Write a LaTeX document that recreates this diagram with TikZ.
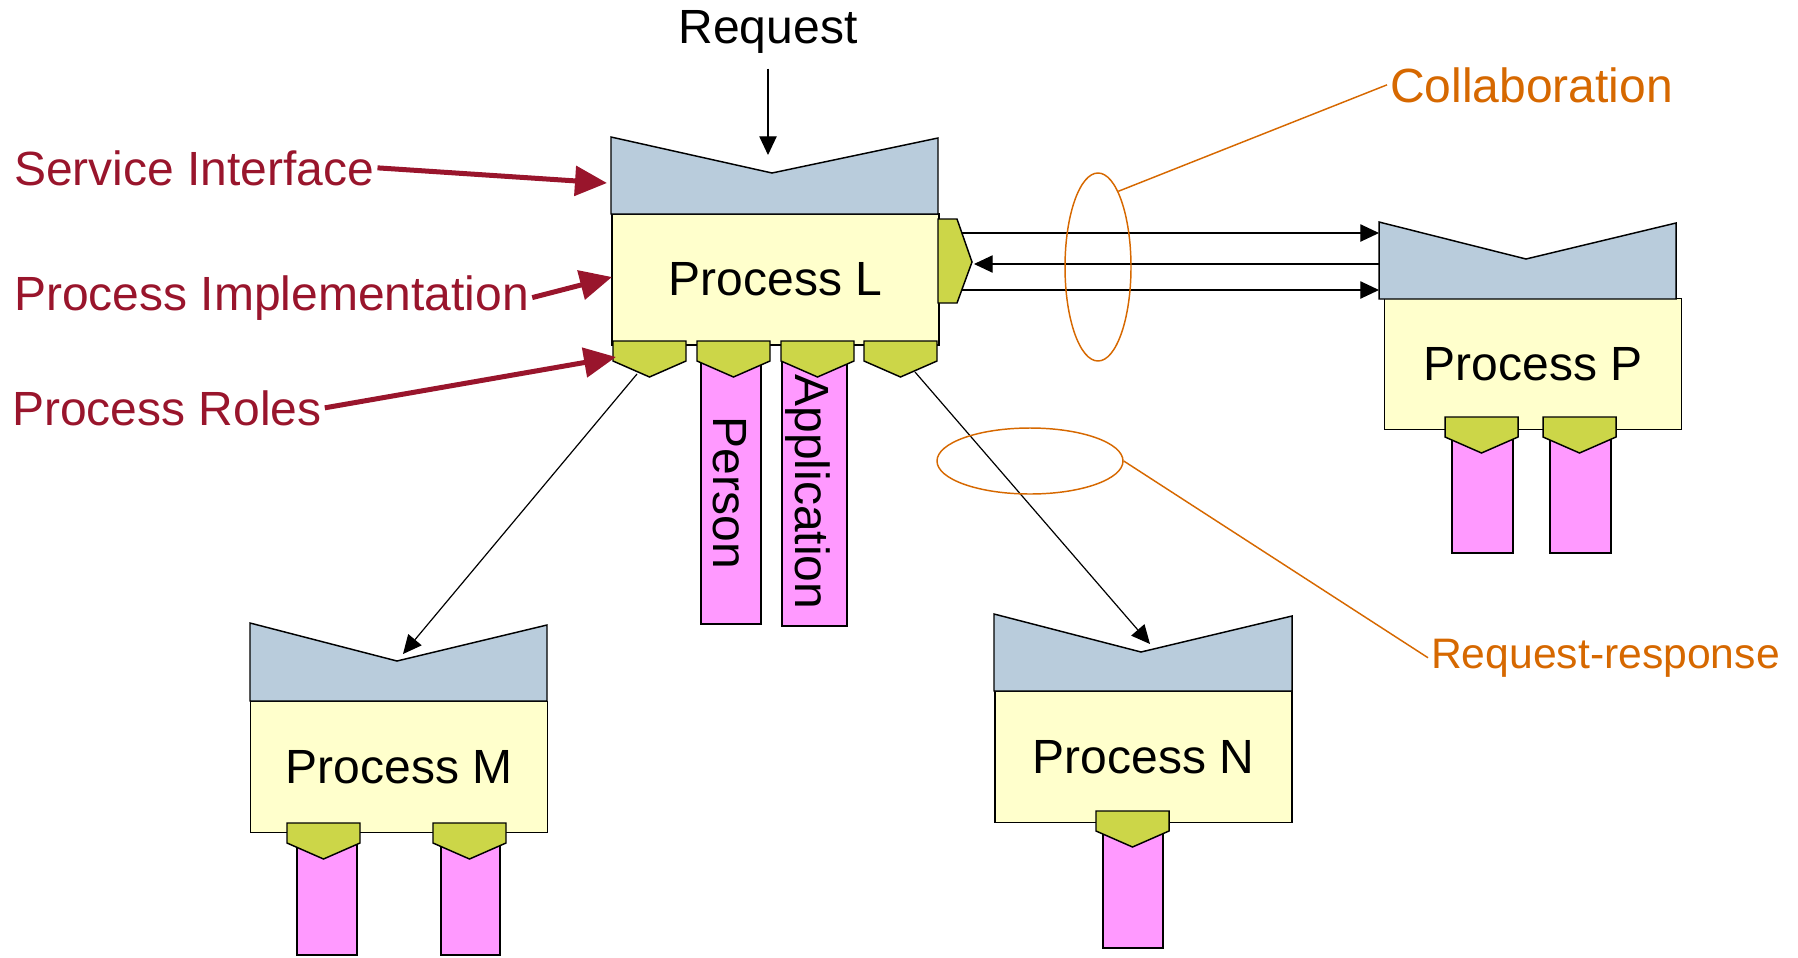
\documentclass[tikz,border=0pt]{standalone}
\usepackage{fontspec}
\setmainfont{Liberation Sans}
\usetikzlibrary{arrows.meta,shapes.geometric}

\definecolor{ifblue}{RGB}{185,204,220}
\definecolor{implyellow}{RGB}{255,255,204}
\definecolor{rolegreen}{RGB}{204,214,72}
\definecolor{rolepink}{RGB}{255,153,255}
\definecolor{notered}{RGB}{153,21,44}
\definecolor{noteorange}{RGB}{214,104,0}

\tikzset{every picture/.style={line width=0.75pt}}
\tikzset{
  bigtext/.style={font=\fontsize{36pt}{43pt}\selectfont},
  ifshape/.style={draw, fill=ifblue, line width=1.1pt},
  procbox/.style={bigtext, draw, fill=implyellow, line width=1.1pt, inner sep=0pt, minimum width=222.75pt, minimum height=98.25pt},
  roletab/.style={draw, fill=rolegreen, line width=1.1pt},
  rolebar/.style={draw, fill=rolepink, line width=1.1pt},
  flow/.style={draw, line width=0.9pt, -{Triangle[length=14pt,width=13pt]}},
  pointer/.style={draw=notered, line width=3.75pt, -{Triangle[length=24pt,width=22pt]}},
  note/.style={text=noteorange, inner sep=2pt},
  ring/.style={ellipse, draw=noteorange, line width=1.1pt, inner sep=0pt},
  leader/.style={draw=noteorange, line width=1.1pt},
}

\begin{document}
\begin{tikzpicture}[x=0.75pt,y=0.75pt,yscale=-1,xscale=1]
\useasboundingbox (0,0) rectangle (1798,957);

%Role bars
\draw[rolebar] (701,355) rectangle (761,624);
\draw[rolebar] (782,355) rectangle (847,626);
\draw[rolebar] (1452,435) rectangle (1513,553);
\draw[rolebar] (1550,435) rectangle (1611,553);
\draw[rolebar] (297,840) rectangle (357,955);
\draw[rolebar] (441,840) rectangle (500,955);
\draw[rolebar] (1103,828) rectangle (1163,948);

%Process boxes
\node[procbox, minimum width=245.25pt] (procL) at (775.5,279.5) {Process L};
\node[procbox] (procP) at (1533,364) {Process P};
\node[procbox] (procM) at (399,767) {Process M};
\node[procbox] (procN) at (1143.5,757) {Process N};

%Service interfaces
\draw[ifshape] (611,214) -- (611,137) -- (772,173) -- (938,138) -- (938,214) -- cycle;
\draw[ifshape] (1379,299) -- (1379,222) -- (1526,259) -- (1676,223) -- (1676,299) -- cycle;
\draw[ifshape] (250,701) -- (250,623) -- (397,661) -- (547,625) -- (547,701) -- cycle;
\draw[ifshape] (994,691) -- (994,614) -- (1141,652) -- (1292,616) -- (1292,691) -- cycle;

%Role tabs of L
\draw[roletab] (613,341) -- (686,341) -- (686,361) -- (649.5,377) -- (613,361) -- cycle;
\draw[roletab] (697,341) -- (770,341) -- (770,361) -- (733.5,377) -- (697,361) -- cycle;
\draw[roletab] (781,341) -- (854,341) -- (854,361) -- (817.5,377) -- (781,361) -- cycle;
\draw[roletab] (864,341) -- (937,341) -- (937,361) -- (900.5,377) -- (864,361) -- cycle;
\draw[roletab] (938,219) -- (957,219) -- (972,262) -- (957,303) -- (938,303) -- cycle;
%Role tabs of P, M, N
\draw[roletab] (1445,417) -- (1518,417) -- (1518,437) -- (1481.5,453) -- (1445,437) -- cycle;
\draw[roletab] (1543,417) -- (1616,417) -- (1616,437) -- (1579.5,453) -- (1543,437) -- cycle;
\draw[roletab] (287,823) -- (360,823) -- (360,843) -- (323.5,859) -- (287,843) -- cycle;
\draw[roletab] (433,823) -- (506,823) -- (506,843) -- (469.5,859) -- (433,843) -- cycle;
\draw[roletab] (1096,811) -- (1169,811) -- (1169,831) -- (1132.5,847) -- (1096,831) -- cycle;

% Text Node
\node[bigtext, rotate=-90] (person) at (730,493) {Person};
% Text Node
\node[bigtext, rotate=-90] (application) at (808,492) {Application};
% Text Node
\node[bigtext, anchor=base] (request) at (768,43) {Request};

%Request arrow
\coordinate (reqIn) at (768,155);
\draw[flow, shorten <=8pt] (request.south -| reqIn) -- (reqIn);

%Collaboration arrows between L and P
\coordinate (lpTopA) at (962,233);
\coordinate (lpTopB) at (1379,233);
\coordinate (lpMidA) at (974,264);
\coordinate (lpMidB) at (1379,264);
\coordinate (lpBotA) at (962,290);
\coordinate (lpBotB) at (1379,290);
\draw[flow] (lpTopA) -- (lpTopB);
\draw[flow] (lpMidB) -- (lpMidA);
\draw[flow] (lpBotA) -- (lpBotB);

%Request-response arrows
\coordinate (roleL1) at (637,374);
\coordinate (ifM) at (403,654);
\coordinate (roleL4) at (915,372);
\coordinate (ifN) at (1150,644);
\draw[flow] (roleL1) -- (ifM);
\draw[flow] (roleL4) -- (ifN);

%Legend labels
\node[bigtext, text=notered, anchor=base west, inner sep=2pt] (siLabel) at (11,185) {Service Interface};
\node[bigtext, text=notered, anchor=base west, inner sep=2pt] (piLabel) at (11,310) {Process Implementation};
\node[bigtext, text=notered, anchor=base west, inner sep=2pt] (prLabel) at (9,425) {Process Roles};
\coordinate (siIn) at (607,183);
\coordinate (piIn) at (612,277);
\coordinate (prIn) at (616,357);
\draw[pointer] (siLabel.east) -- (siIn);
\draw[pointer] (piLabel.east) -- (piIn);
\draw[pointer] (prLabel.east) -- (prIn);

%Annotations
\node[ring, minimum width=49.5pt, minimum height=141pt] (collabRing) at (1098,267) {};
\node[ring, minimum width=139.5pt, minimum height=49.5pt] (rrRing) at (1030,461) {};
\node[note, bigtext, anchor=base west] (collab) at (1387,102) {Collaboration};
\node[note, font=\fontsize{32pt}{38pt}\selectfont, anchor=base west] (rrLabel) at (1428,668) {Request-response};
\draw[leader] (collabRing.75) -- (collab.west);
\draw[leader] (rrRing.east) -- (rrLabel.west);

\end{tikzpicture}
\end{document}
